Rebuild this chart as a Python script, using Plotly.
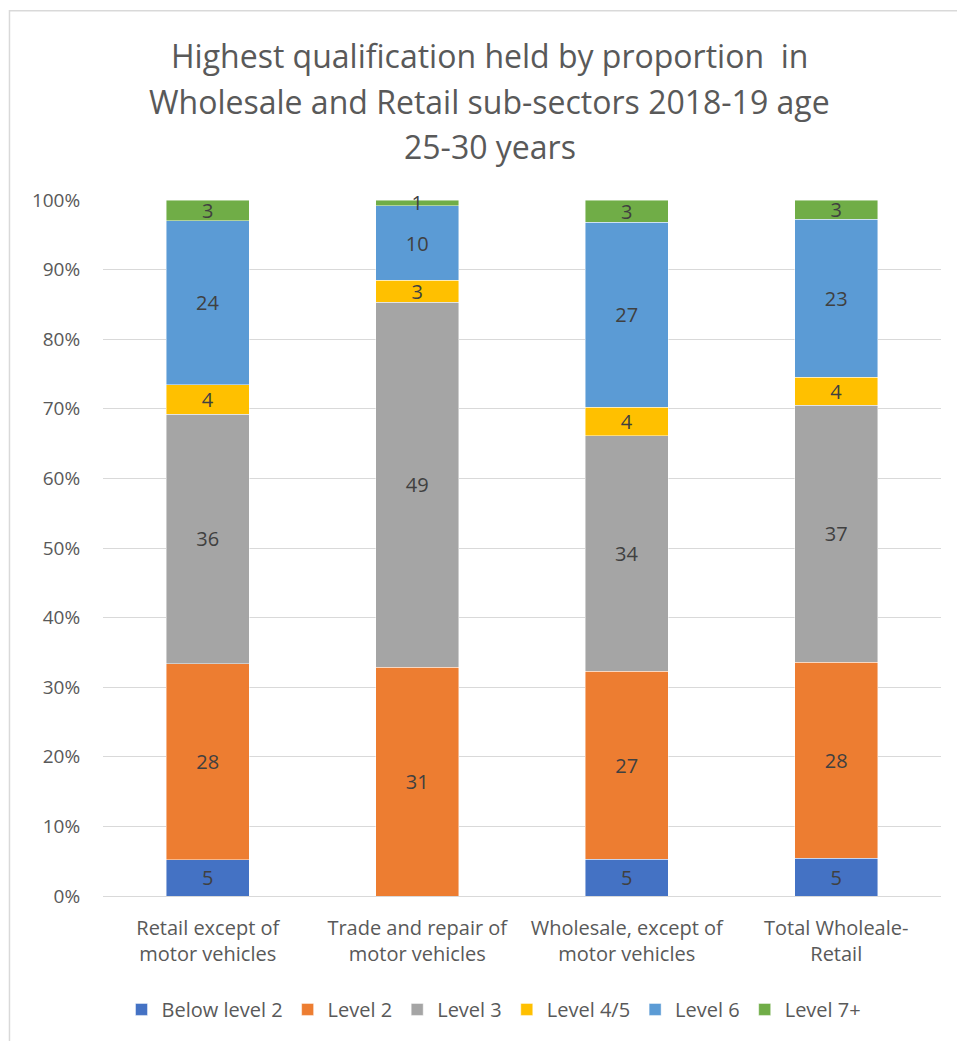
import plotly.graph_objects as go

categories = ["Retail except of<br>motor vehicles",
              "Trade and repair of<br>motor vehicles",
              "Wholesale, except of<br>motor vehicles",
              "Total Wholeale-<br>Retail"]
series_names = ["Below level 2", "Level 2", "Level 3", "Level 4/5", "Level 6", "Level 7+"]
below_level_2 = [5.2, 0.0, 5.3, 5.4]
level_2 = [28.2, 30.8, 27.0, 28.2]
level_3 = [35.9, 49.2, 33.9, 36.9]
level_4_5 = [4.2, 3.0, 4.1, 4.0]
level_6 = [23.6, 10.0, 26.6, 22.7]
level_7_plus = [3.0, 0.8, 3.2, 2.8]
colors = ["#4472C4", "#ED7D31", "#A5A5A5", "#FFC000", "#5B9BD5", "#70AD47"]
y_ticks = list(range(0, 101, 10))
y_tick_labels = ["%d%%" % t for t in y_ticks]

all_series = [below_level_2, level_2, level_3, level_4_5, level_6, level_7_plus]
title_lines = ["Highest qualification held by proportion  in",
               "Wholesale and Retail sub-sectors 2018-19 age",
               "25-30 years"]

FONT = "Open Sans"
fig = go.Figure()
for name, vals, col in zip(series_names, all_series, colors):
    fig.add_trace(go.Bar(
        x=categories, y=vals, name=name,
        marker=dict(color=col, line=dict(color="rgba(255,255,255,0.6)", width=0.75)),
        text=[("%d" % round(v)) if v > 0 else "" for v in vals],
        textposition="inside", insidetextanchor="middle", textangle=0,
        textfont=dict(family=FONT, size=20, color="#404040"),
        cliponaxis=False,
        hoverinfo="skip",
    ))

fig.update_layout(
    barmode="stack", barnorm="percent", bargap=0.604,
    width=957, height=1041,
    margin=dict(l=103, r=16, t=200, b=143),
    paper_bgcolor="white", plot_bgcolor="white",
    font=dict(family=FONT, color="#595959", size=19),
    uniformtext=dict(mode="show", minsize=20),
    showlegend=True,
    legend=dict(orientation="h", x=0.4666, xanchor="center", y=-0.163, yanchor="middle",
                font=dict(family=FONT, size=20, color="#595959"), traceorder="normal",
                itemwidth=30),
    yaxis=dict(range=[0, 100], tickmode="array", tickvals=y_ticks, ticktext=y_tick_labels,
               showgrid=True, gridcolor="#D9D9D9", gridwidth=1,
               zeroline=True, zerolinecolor="#D9D9D9", zerolinewidth=1,
               showline=False, ticks="outside", ticklen=18, tickcolor="rgba(0,0,0,0)",
               tickfont=dict(family=FONT, size=19, color="#595959")),
    xaxis=dict(showline=False, showgrid=False, ticks="outside", ticklen=14,
               tickcolor="rgba(0,0,0,0)",
               tickfont=dict(family=FONT, size=20, color="#595959")),
)

ys = [1.2077, 1.1418, 1.0774]
for line, yy in zip(title_lines, ys):
    fig.add_annotation(text=line, x=0.4618, y=yy, xref="paper", yref="paper",
                       xanchor="center", yanchor="middle", showarrow=False,
                       font=dict(family=FONT, size=32, color="#595959"))

fig.add_shape(type="rect", xref="paper", yref="paper",
              x0=-0.1116, y0=-2, x1=3, y1=1.272,
              line=dict(color="#D9D9D9", width=1.5), fillcolor="rgba(0,0,0,0)", layer="below")

fig.write_html("out.html")
